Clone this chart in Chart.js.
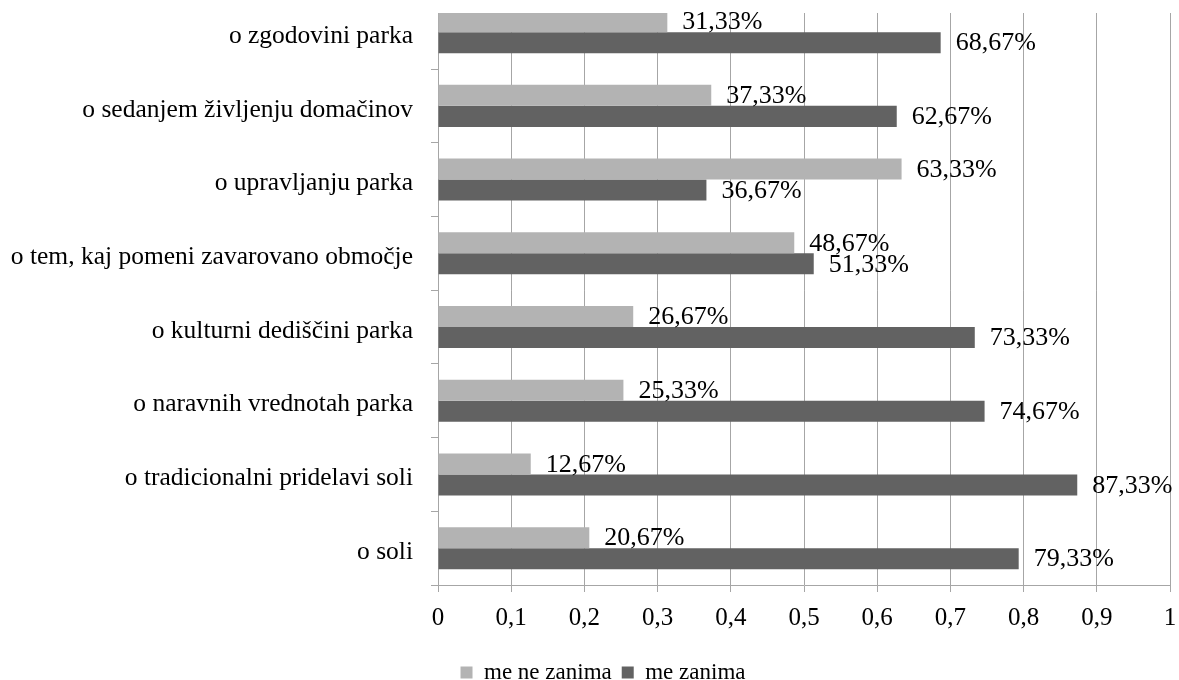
<!DOCTYPE html>
<html><head><meta charset="utf-8">
<script src="https://cdn.jsdelivr.net/npm/chart.js@4.4.0/dist/chart.umd.min.js"></script>
<style>
html,body{margin:0;padding:0;background:#fff;overflow:hidden;width:1179px;height:680px;}
#wrap{position:absolute;left:0;top:-38px;width:1179px;height:738px;}
</style></head><body>
<div id="wrap"><canvas id="c" width="1179" height="738"></canvas></div>
<script>
const categories = [
  'o zgodovini parka',
  'o sedanjem življenju domačinov',
  'o upravljanju parka',
  'o tem, kaj pomeni zavarovano območje',
  'o kulturni dediščini parka',
  'o naravnih vrednotah parka',
  'o tradicionalni pridelavi soli',
  'o soli'
];
const seriesNames = ['me ne zanima', 'me zanima'];
const meNeZanima = [0.3133, 0.3733, 0.6333, 0.4867, 0.2667, 0.2533, 0.1267, 0.2067];
const meZanima   = [0.6867, 0.6267, 0.3667, 0.5133, 0.7333, 0.7467, 0.8733, 0.7933];
const xMin = 0, xMax = 1, xStep = 0.1;

const FONT = "'Liberation Serif','Times New Roman',serif";
const SHIFT = 38;   // canvas is shifted up; the top strip is masked
const MASK = 13;    // visible top of the plot in page pixels

function fmtComma(v, d) { return v.toFixed(d).replace('.', ','); }

const topMaskAndLabels = {
  id: 'topMaskAndLabels',
  afterLayout(chart) {
    if (chart.legend) { chart.legend.left += 18; chart.legend.right += 18; }
  },
  afterDatasetsDraw(chart) {
    const ctx = chart.ctx;
    ctx.save();
    ctx.fillStyle = '#fff';
    ctx.fillRect(0, 0, chart.width, SHIFT + MASK);
    ctx.font = '26px ' + FONT;
    ctx.fillStyle = '#000';
    ctx.textAlign = 'left';
    ctx.textBaseline = 'middle';
    chart.data.datasets.forEach((ds, di) => {
      const meta = chart.getDatasetMeta(di);
      meta.data.forEach((bar, i) => {
        const txt = fmtComma(ds.data[i] * 100, 2) + '%';
        ctx.fillText(txt, bar.x + 15, bar.y + 1);
      });
    });
    ctx.restore();
  }
};

new Chart(document.getElementById('c'), {
  type: 'bar',
  data: {
    labels: categories,
    datasets: [
      { label: seriesNames[0], data: meNeZanima, backgroundColor: '#b3b3b3', borderWidth: 0 },
      { label: seriesNames[1], data: meZanima, backgroundColor: '#626262', borderWidth: 0 }
    ]
  },
  options: {
    indexAxis: 'y',
    responsive: false,
    animation: false,
    devicePixelRatio: 1,
    categoryPercentage: 0.57,
    barPercentage: 1.0,
    layout: { padding: { left: 0, right: 9, top: 0, bottom: 6 } },
    plugins: {
      legend: {
        position: 'bottom',
        labels: {
          boxWidth: 12, boxHeight: 12, padding: 10,
          color: '#000',
          font: { family: FONT, size: 23 }
        }
      },
      tooltip: { enabled: false }
    },
    scales: {
      x: {
        type: 'linear',
        min: xMin, max: xMax,
        ticks: {
          stepSize: xStep,
          color: '#000',
          padding: 11,
          font: { family: FONT, size: 25 },
          callback: (v) => (Math.abs(v) < 1e-9 ? '0' : (Math.abs(v - 1) < 1e-9 ? '1' : fmtComma(v, 1)))
        },
        grid: { color: '#a6a6a6', lineWidth: 1, tickLength: 7, drawTicks: true },
        border: { display: true, color: '#a6a6a6' },
        afterFit(scale) { scale.height = 66; scale.paddingRight = 0; scale.paddingLeft = 0; }
      },
      y: {
        type: 'category',
        ticks: {
          color: '#000',
          padding: 18,
          labelOffset: 4,
          font: { family: FONT, size: 25.5 }
        },
        grid: { display: true, drawOnChartArea: false, drawTicks: true, tickLength: 7, color: '#a6a6a6', offset: true },
        border: { display: true, color: '#a6a6a6' },
        afterFit(scale) { scale.width = 438; }
      }
    }
  },
  plugins: [topMaskAndLabels]
});
</script>
</body></html>
